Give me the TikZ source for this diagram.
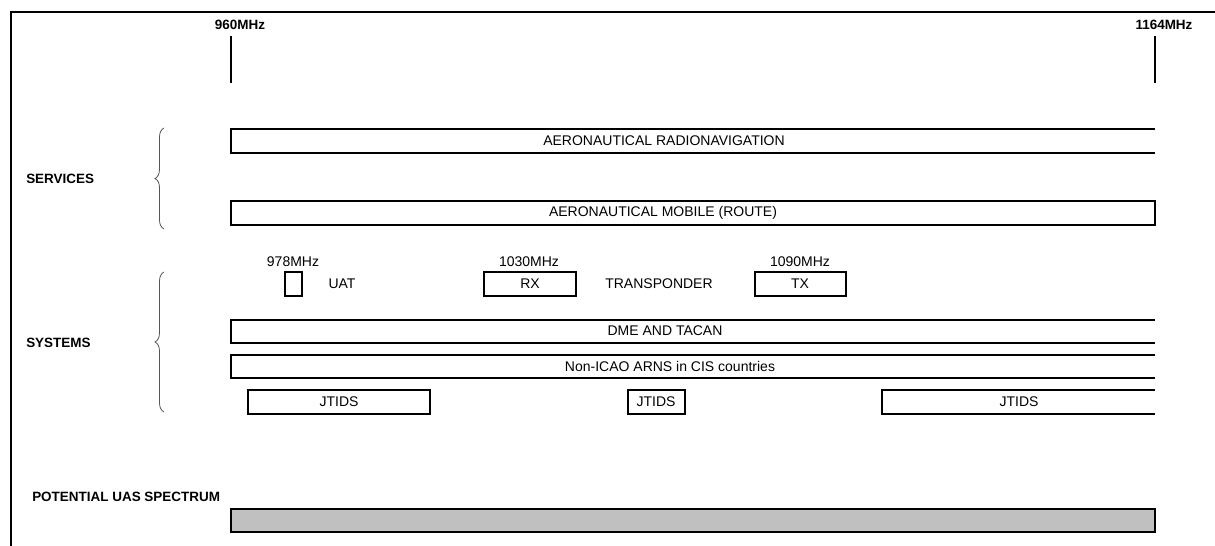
\documentclass[tikz,border=0pt]{standalone}
\usepackage{fontspec}
\setmainfont{Liberation Sans}
\usepackage{xcolor}
\usetikzlibrary{decorations.pathreplacing}
\definecolor{Ink}{HTML}{000000}
\definecolor{BraceGray}{HTML}{555555}
\definecolor{UasFill}{HTML}{C0C0C0}
\tikzset{
  frame/.style={draw=Ink,line width=1.5pt},
  tick/.style={draw=Ink,line width=1.5pt},
  bar/.style={draw=Ink,line width=1.1pt},
  lbl/.style={font=\fontsize{10.5}{12}\selectfont,inner sep=0pt},
  head/.style={lbl,font=\fontsize{10.1}{12}\selectfont\bfseries},
  brc/.style={draw=BraceGray,line width=.6pt,decorate,decoration={brace,amplitude=6.75pt}}
}

\begin{document}
\begin{tikzpicture}[x=0.75pt,y=-0.75pt]
  \useasboundingbox (0,0) rectangle (1215,546);
  % frame
  \draw[frame] (11,546) -- (11,12) -- (1215,12);
  % band edges
  \node[head] (f960) at (240,25) {960MHz};
  \node[head] (f1164) at (1164,25) {1164MHz};
  \coordinate (t960a) at (231,36);
  \coordinate (t960b) at (231,83);
  \coordinate (t1164a) at (1155,36);
  \coordinate (t1164b) at (1155,83);
  \draw[tick] (t960a) -- (t960b);
  \draw[tick] (t1164a) -- (t1164b);
  % services
  \node[head,anchor=west] (serv) at (26,179) {SERVICES};
  \draw[brc] (164,229) -- (164,128);
  \draw[bar] (1155,129) -- (231,129) -- (231,153) -- (1155,153);
  \node[lbl] (radnav) at (664,141) {AERONAUTICAL RADIONAVIGATION};
  \draw[bar] (231,201) rectangle (1155,225);
  \node[lbl] (mobile) at (663,213) {AERONAUTICAL MOBILE (ROUTE)};
  % systems
  \node[head,anchor=west] (sys) at (26,343) {SYSTEMS};
  \draw[brc] (164,412) -- (164,272);
  \node[lbl] (f978) at (293,262) {978MHz};
  \draw[bar] (285,272) rectangle (302,296);
  \node[lbl] (uat) at (342,284) {UAT};
  \node[lbl] (f1030) at (529,262) {1030MHz};
  \draw[bar] (484,272) rectangle (576,296);
  \node[lbl] (rx) at (530,284) {RX};
  \node[lbl] (xpdr) at (659,284) {TRANSPONDER};
  \node[lbl] (f1090) at (800,262) {1090MHz};
  \draw[bar] (755,272) rectangle (846,296);
  \node[lbl] (tx) at (800,284) {TX};
  \draw[bar] (1155,320) -- (231,320) -- (231,343) -- (1155,343);
  \node[lbl] (dme) at (665,331) {DME AND TACAN};
  \draw[bar] (1155,355) -- (231,355) -- (231,378) -- (1155,378);
  \node[lbl] (cis) at (670,366) {Non-ICAO ARNS in CIS countries};
  \draw[bar] (248,390) rectangle (430,414);
  \node[lbl] (jt1) at (339,402) {JTIDS};
  \draw[bar] (628,390) rectangle (685,414);
  \node[lbl] (jt2) at (656,402) {JTIDS};
  \draw[bar] (1155,390) -- (882,390) -- (882,414) -- (1155,414);
  \node[lbl] (jt3) at (1019,402) {JTIDS};
  % potential spectrum
  \node[head,anchor=west] (uas) at (32,497) {POTENTIAL UAS SPECTRUM};
  \draw[bar,fill=UasFill] (231,509) rectangle (1155,532);
\end{tikzpicture}
\end{document}
